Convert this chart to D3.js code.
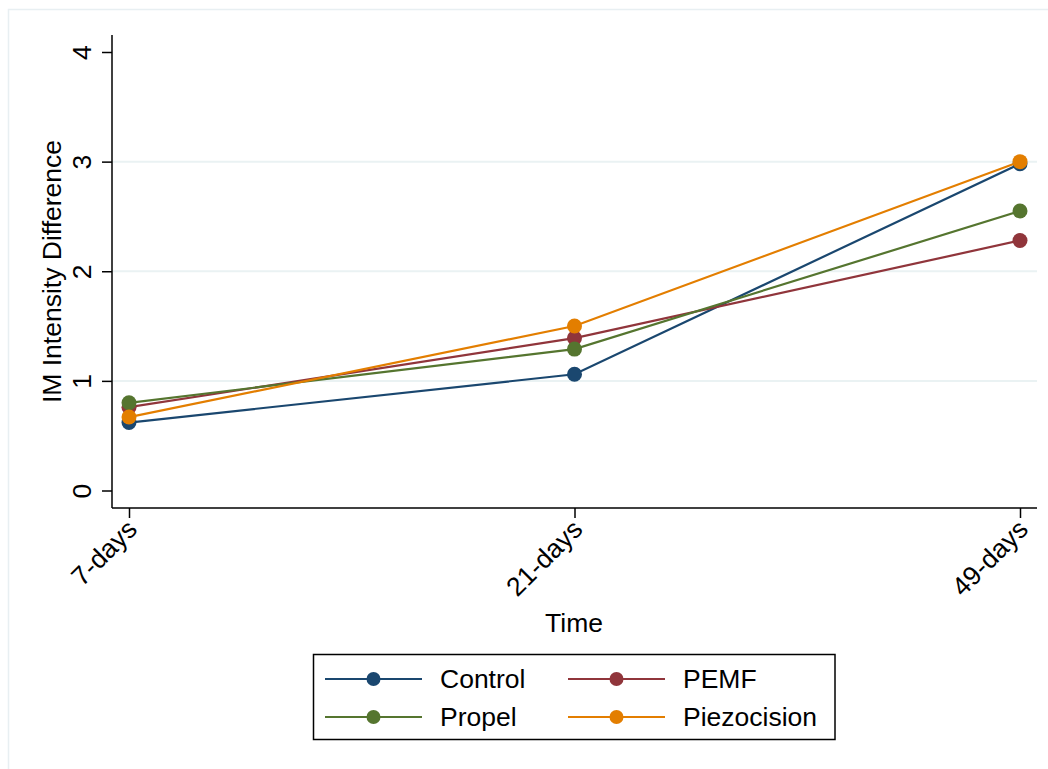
<!DOCTYPE html>
<html>
<head>
<meta charset="utf-8">
<script src="https://cdn.jsdelivr.net/npm/d3@7"></script>
<style>
html,body{margin:0;padding:0;background:#fff;}
svg{display:block;}
text{font-family:"Liberation Sans",Arial,sans-serif;fill:#000;}
</style>
</head>
<body>
<script>
const categories = ["7-days", "21-days", "49-days"];
const seriesNames = ["Control", "PEMF", "Propel", "Piezocision"];
const control = [0.62, 1.06, 2.98];
const pemf = [0.76, 1.39, 2.28];
const propel = [0.80, 1.29, 2.55];
const piezocision = [0.67, 1.50, 3.00];
const yTicks = [0, 1, 2, 3, 4];
const gridTicks = [1, 2, 3];
const colors = ["#1a476f", "#90353b", "#55752f", "#e37e00"];
const seriesValues = [control, pemf, propel, piezocision];
const drawOrder = [0, 1, 2, 3];

const W = 1048, H = 769;
const FS = "26.5px";
const svg = d3.select("body").append("svg").attr("width", W).attr("height", H);

// outer frame
svg.append("rect").attr("x", 8.5).attr("y", 9.5).attr("width", W).attr("height", H)
  .attr("fill", "#fff").attr("stroke", "#e8eff2").attr("stroke-width", 1.5);

const plotLeft = 112, plotRight = 1037, plotTop = 35, plotBottom = 508;
const x = d3.scalePoint().domain(categories).range([129, 1020]);
const y = d3.scaleLinear().domain([0, 4]).range([490.5, 52]);

// gridlines
svg.append("g").selectAll("line").data(gridTicks).join("line")
  .attr("x1", plotLeft).attr("x2", plotRight)
  .attr("y1", d => y(d)).attr("y2", d => y(d))
  .attr("stroke", "#eaf2f3").attr("stroke-width", 2);

// Y axis
const yAxis = svg.append("g").attr("transform", `translate(${plotLeft},0)`)
  .call(d3.axisLeft(y).tickValues(yTicks).tickSize(10).tickPadding(0).tickFormat(d3.format("d")));
yAxis.select(".domain").attr("d", `M0,${plotTop}V${plotBottom}`).attr("stroke", "#000").attr("stroke-width", 1.5);
yAxis.selectAll(".tick line").attr("stroke", "#000").attr("stroke-width", 1.5);
yAxis.selectAll(".tick text")
  .attr("transform", "translate(-30,0) rotate(-90)")
  .attr("x", 0).attr("dy", "0.35em").attr("text-anchor", "middle")
  .style("font-size", FS).style("font-family", "'Liberation Sans',Arial,sans-serif").attr("fill", "#000");

// X axis
const xAxis = svg.append("g").attr("transform", `translate(0,${plotBottom})`)
  .call(d3.axisBottom(x).tickSize(10).tickPadding(0));
xAxis.select(".domain").attr("d", `M${plotLeft},0H${plotRight}`).attr("stroke", "#000").attr("stroke-width", 1.5);
xAxis.selectAll(".tick line").attr("stroke", "#000").attr("stroke-width", 1.5);
xAxis.selectAll(".tick text")
  .attr("y", 0).attr("dy", 0)
  .attr("transform", "translate(9,23) rotate(-45)")
  .attr("text-anchor", "end")
  .style("font-size", FS).style("font-family", "'Liberation Sans',Arial,sans-serif").attr("fill", "#000");

// axis titles
svg.append("text").attr("x", 574).attr("y", 632).attr("text-anchor", "middle")
  .style("font-size", FS).text("Time");
svg.append("text").attr("transform", `translate(61,${(plotTop + plotBottom) / 2}) rotate(-90)`)
  .attr("text-anchor", "middle").style("font-size", FS).text("IM Intensity Difference");

// series
const line = d3.line().x((d, i) => x(categories[i])).y(d => y(d));
drawOrder.forEach(si => {
  const g = svg.append("g");
  g.append("path").datum(seriesValues[si]).attr("d", line)
    .attr("fill", "none").attr("stroke", colors[si]).attr("stroke-width", 2.2);
  g.selectAll("circle").data(seriesValues[si]).join("circle")
    .attr("cx", (d, i) => x(categories[i])).attr("cy", d => y(d))
    .attr("r", 7.5).attr("fill", colors[si]);
});

// legend
const legend = svg.append("g");
legend.append("rect").attr("x", 313.5).attr("y", 654.5).attr("width", 521.5).attr("height", 85)
  .attr("fill", "#fff").attr("stroke", "#000").attr("stroke-width", 1.5);
const legendPos = [
  {lx: 325, ty: 679}, {lx: 568, ty: 679}, {lx: 325, ty: 717}, {lx: 568, ty: 717}
];
seriesNames.forEach((name, i) => {
  const p = legendPos[i];
  legend.append("line").attr("x1", p.lx).attr("x2", p.lx + 97).attr("y1", p.ty).attr("y2", p.ty)
    .attr("stroke", colors[i]).attr("stroke-width", 2.2);
  legend.append("circle").attr("cx", p.lx + 48.5).attr("cy", p.ty).attr("r", 7).attr("fill", colors[i]);
  legend.append("text").attr("x", p.lx + 115).attr("y", p.ty).attr("dy", "0.35em")
    .style("font-size", FS).text(name);
});
</script>
</body>
</html>
